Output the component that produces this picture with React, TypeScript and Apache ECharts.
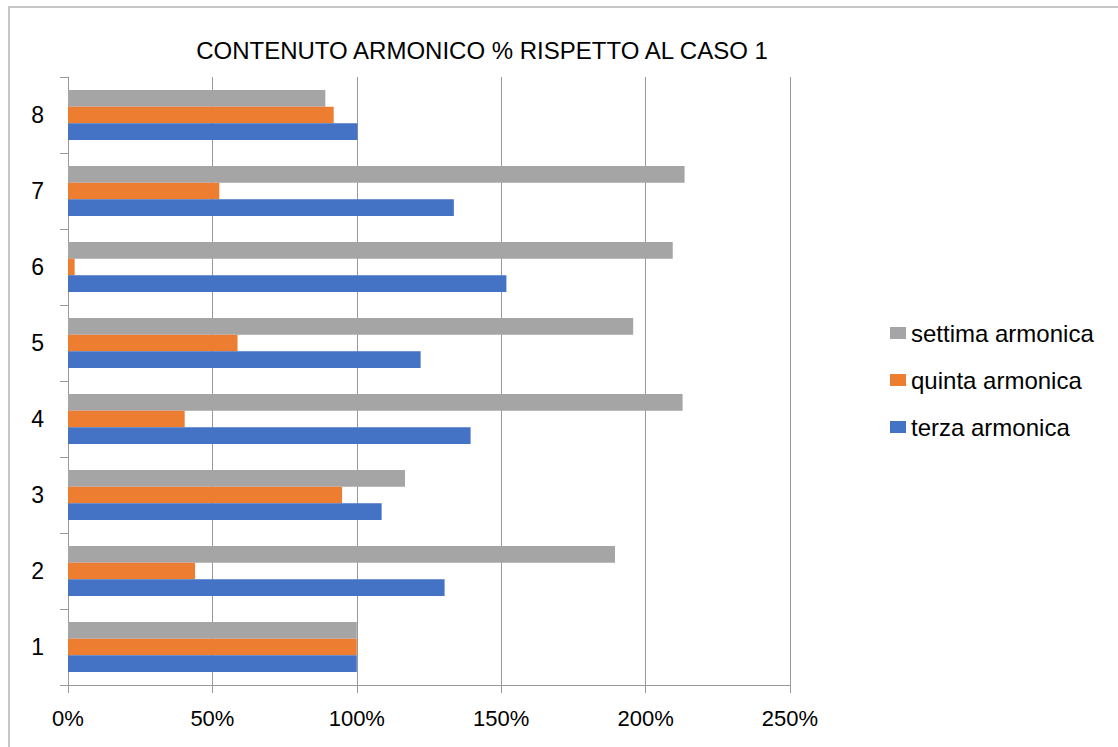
import React, { useEffect, useRef } from "react";
import * as echarts from "echarts";

const categories = ["1", "2", "3", "4", "5", "6", "7", "8"];
const terza = [100, 130.4, 108.6, 139.4, 122.1, 151.8, 133.6, 100.2];
const quinta = [100, 44.0, 94.9, 40.4, 58.7, 2.3, 52.4, 92.0];
const settima = [100, 189.4, 116.7, 212.8, 195.7, 209.4, 213.5, 89.1];
const seriesNames = ["settima armonica", "quinta armonica", "terza armonica"];
const colors = ["#a5a5a5", "#ed7d31", "#4472c4"];
const titleText = "CONTENUTO ARMONICO % RISPETTO AL CASO 1";

const FONT = "Liberation Sans, Arial, sans-serif";

export default function App() {
  const ref = useRef<HTMLDivElement>(null);
  useEffect(() => {
    if (!ref.current) return;
    const chart = echarts.init(ref.current, undefined, { renderer: "svg" });
    const values = [settima, quinta, terza];
    chart.setOption({
      animation: false,
      backgroundColor: "#ffffff",
      textStyle: { fontFamily: FONT },
      grid: { left: 68, right: 328, top: 77, bottom: 62, containLabel: false },
      legend: {
        data: seriesNames,
        orient: "vertical",
        left: 885,
        top: 316,
        itemWidth: 16,
        itemHeight: 12,
        itemGap: 23,
        icon: "rect",
        textStyle: { fontSize: 24, color: "#000", fontFamily: FONT, lineHeight: 24 },
      },
      xAxis: {
        type: "value",
        min: 0,
        max: 250,
        interval: 50,
        axisLine: { show: true, lineStyle: { color: "#999", width: 1 } },
        axisTick: { show: true, length: 8, lineStyle: { color: "#999" } },
        splitLine: { show: true, lineStyle: { color: "#999", width: 1 } },
        axisLabel: {
          formatter: "{value}%",
          fontSize: 22,
          color: "#000",
          margin: 22,
          fontFamily: FONT,
        },
      },
      yAxis: {
        type: "category",
        data: categories,
        axisLine: { show: true, lineStyle: { color: "#999", width: 1 } },
        axisTick: { show: true, length: 8, lineStyle: { color: "#999" } },
        axisLabel: { fontSize: 23, color: "#000", margin: 24, fontFamily: FONT },
      },
      graphic: [
        {
          type: "rect",
          shape: { x: 9, y: 7, width: 1120, height: 750 },
          style: { fill: "none", stroke: "#b4b4b4", lineWidth: 1.5 },
          silent: true,
        },
        {
          type: "text",
          x: 482,
          y: 50,
          style: {
            text: titleText,
            fontSize: 24,
            fontFamily: FONT,
            fill: "#000",
            textAlign: "center",
            textVerticalAlign: "middle",
          },
        },
      ],
      series: seriesNames.map((name, i) => ({
        name,
        type: "bar",
        data: values[i],
        barGap: "0%",
        barCategoryGap: "34%",
        itemStyle: { color: colors[i] },
      })),
    });
    return () => chart.dispose();
  }, []);
  return (
    <div
      ref={ref}
      style={{ position: "fixed", left: 0, top: 0, width: 1118, height: 747 }}
    />
  );
}
